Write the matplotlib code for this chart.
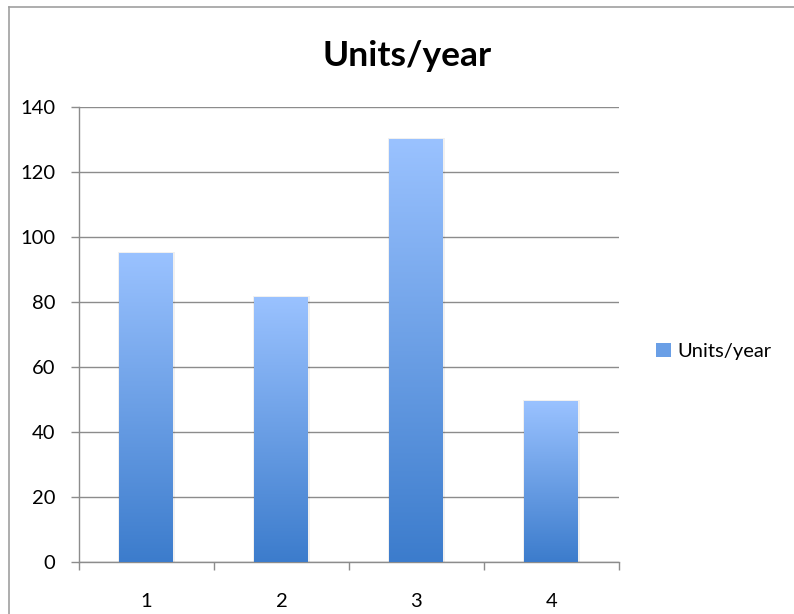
import numpy as np
import matplotlib
matplotlib.use('Agg')
import matplotlib.pyplot as plt
from matplotlib.colors import LinearSegmentedColormap
from matplotlib.patches import Patch
from matplotlib.lines import Line2D

categories = ['1', '2', '3', '4']
units_per_year = [95, 81.4, 130, 49.3]
series_name = 'Units/year'

plt.rc('font', family=['Lato', 'DejaVu Sans'], size=14.5)
fig = plt.figure(figsize=(7.94, 6.14), dpi=100)
ax = fig.add_axes([0.0995, 0.0847, 0.68, 0.741])

grid_color = '#8c8c8c'
top_col = '#9ac2ff'
bottom_col = '#3c7ccc'
cmap = LinearSegmentedColormap.from_list('bar_grad', [bottom_col, top_col])
gradient = np.linspace(0, 1, 256).reshape(-1, 1)

x = np.arange(1, len(categories) + 1)
width = 0.4
bars = ax.bar(x, units_per_year, width=width, color='none', zorder=3)
for b in bars:
    x0, w, h = b.get_x(), b.get_width(), b.get_height()
    # faint shadow around each bar
    ax.add_patch(plt.Rectangle((x0 - 0.012, 0), w + 0.024, h + 0.4,
                               color='#000000', alpha=0.06, lw=0, zorder=2))
    ax.imshow(gradient, extent=[x0, x0 + w, 0, h], origin='lower',
              aspect='auto', cmap=cmap, zorder=3)

ax.set_xlim(0.5, len(categories) + 0.5)
ax.set_ylim(0, 140)
ax.set_yticks(range(0, 141, 20))
ax.set_xticks(x)
ax.set_xticklabels(categories)
ax.set_xticks(np.arange(0.5, len(categories) + 1), minor=True)
ax.tick_params(axis='x', which='major', length=0, pad=22)
ax.tick_params(axis='x', which='minor', length=6, color=grid_color, width=1)
ax.tick_params(axis='y', length=6, color=grid_color, width=1, pad=11)
ax.yaxis.grid(True, color=grid_color, linewidth=1, zorder=1)
ax.set_axisbelow(True)
for s in ['top', 'right']:
    ax.spines[s].set_visible(False)
for s in ['left', 'bottom']:
    ax.spines[s].set_color(grid_color)
    ax.spines[s].set_linewidth(1)

fig.text(0.5126, 1 - 66 / 614, series_name, ha='center', va='baseline',
         fontsize=25.5, fontweight='bold')

handle = Patch(facecolor='#6a9fe6', edgecolor='none')
fig.legend([handle], [series_name], loc='center left',
           bbox_to_anchor=(0.826, 0.428), frameon=False, borderaxespad=0,
           borderpad=0, handlelength=0.75, handleheight=0.75,
           handletextpad=0.3, fontsize=14.5)

# outer chart frame (left and top edges)
fig.add_artist(Line2D([9 / 794, 9 / 794], [0, 1 - 7 / 614], color='#a0a0a0', lw=1.2))
fig.add_artist(Line2D([9 / 794, 1], [1 - 7 / 614, 1 - 7 / 614], color='#a0a0a0', lw=1.2))

fig.savefig('out.png', dpi=100)
